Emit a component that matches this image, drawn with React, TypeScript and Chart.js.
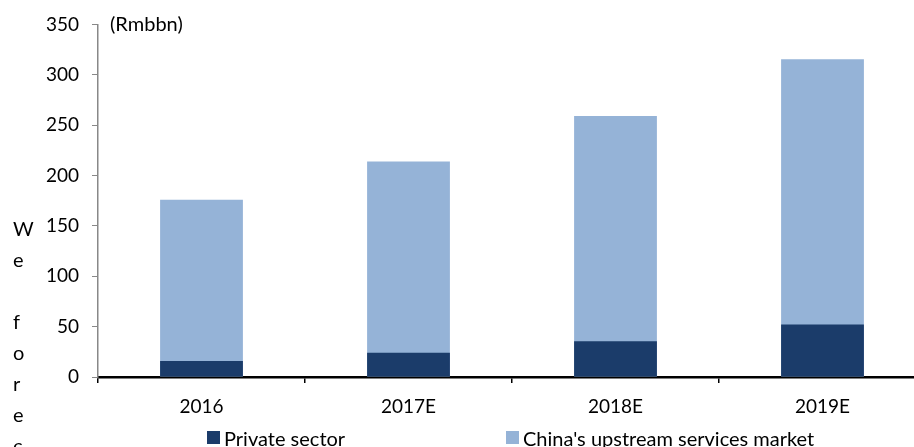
import React, { useEffect, useRef } from "react";
import { Chart, registerables } from "chart.js";

Chart.register(...registerables);

const categories = ["2016", "2017E", "2018E", "2019E"];
const privateSector = [16, 24, 35.5, 52];
const upstreamMarket = [176, 214, 259, 315.5];
const yTicks = [0, 50, 100, 150, 200, 250, 300, 350];
const unitLabel = "(Rmbbn)";
const sideNote = "We forecast";
const legendLabels = ["Private sector", "China's upstream services market"];

const DARK = "#1B3C6A";
const LIGHT = "#95B3D7";
const FONT = "Lato, 'Open Sans', sans-serif";

const unitPlugin = {
  id: "unitLabel",
  afterDraw(chart: any) {
    const { ctx, chartArea } = chart;
    ctx.save();
    ctx.font = `20px ${FONT}`;
    ctx.fillStyle = "#000";
    ctx.textBaseline = "middle";
    ctx.textAlign = "left";
    ctx.fillText(unitLabel, chartArea.left + 12, chartArea.top);
    ctx.restore();
  },
};

export default function App() {
  const ref = useRef<HTMLCanvasElement>(null);

  useEffect(() => {
    if (!ref.current) return;
    const chart = new Chart(ref.current, {
      type: "bar",
      data: {
        labels: categories,
        datasets: [
          {
            label: legendLabels[0],
            data: privateSector,
            backgroundColor: DARK,
            borderWidth: 0,
            barPercentage: 0.4,
            categoryPercentage: 1,
          },
          {
            label: legendLabels[1],
            data: upstreamMarket,
            backgroundColor: LIGHT,
            borderWidth: 0,
            barPercentage: 0.4,
            categoryPercentage: 1,
          },
        ],
      },
      options: {
        responsive: false,
        animation: false,
        layout: { padding: { top: 22, right: 14, left: 0, bottom: 0 } },
        plugins: {
          legend: { display: false },
          tooltip: { enabled: false },
        },
        scales: {
          x: {
            stacked: true,
            offset: true,
            grid: {
              offset: true,
              drawOnChartArea: false,
              drawTicks: true,
              tickLength: 6,
              color: "#000",
              lineWidth: 1.5,
            },
            border: { display: true, color: "#000", width: 2.5 },
            ticks: {
              color: "#000",
              font: { family: FONT, size: 19 },
              padding: 12,
              maxRotation: 0,
            },
            afterFit(scale: any) {
              scale.height = 70;
            },
          },
          y: {
            stacked: false,
            min: 0,
            max: 350,
            afterBuildTicks(scale: any) {
              scale.ticks = yTicks.map((v) => ({ value: v }));
            },
            grid: {
              drawOnChartArea: false,
              drawTicks: true,
              tickLength: 6,
              color: "#888",
            },
            border: { display: true, color: "#888", width: 1.5 },
            ticks: {
              color: "#000",
              font: { family: FONT, size: 19 },
              padding: 13,
            },
            afterFit(scale: any) {
              scale.width = 98;
            },
          },
        },
      },
      plugins: [unitPlugin],
    });
    return () => chart.destroy();
  }, []);

  const letters = sideNote.split("");

  return (
    <div
      style={{
        position: "fixed",
        left: 0,
        top: 0,
        width: 914,
        height: 447,
        overflow: "hidden",
        background: "#fff",
        fontFamily: FONT,
      }}
    >
      <canvas ref={ref} width={940} height={447} style={{ position: "absolute", left: 0, top: 0 }} />
      <div
        style={{
          position: "absolute",
          left: 13,
          top: 213,
          fontSize: 20,
          lineHeight: "31px",
          color: "#000",
        }}
      >
        {letters.map((c, i) => (
          <div key={i} style={{ height: 31 }}>
            {c === " " ? "\u00a0" : c}
          </div>
        ))}
      </div>
      <div style={{ position: "absolute", left: 207, top: 431, width: 13, height: 13, background: DARK }} />
      <div style={{ position: "absolute", left: 224, top: 425, fontSize: 20, lineHeight: "26px", whiteSpace: "nowrap" }}>
        {legendLabels[0]}
      </div>
      <div style={{ position: "absolute", left: 506, top: 431, width: 13, height: 13, background: LIGHT }} />
      <div style={{ position: "absolute", left: 523, top: 425, fontSize: 20, lineHeight: "26px", whiteSpace: "nowrap" }}>
        {legendLabels[1]}
      </div>
    </div>
  );
}
